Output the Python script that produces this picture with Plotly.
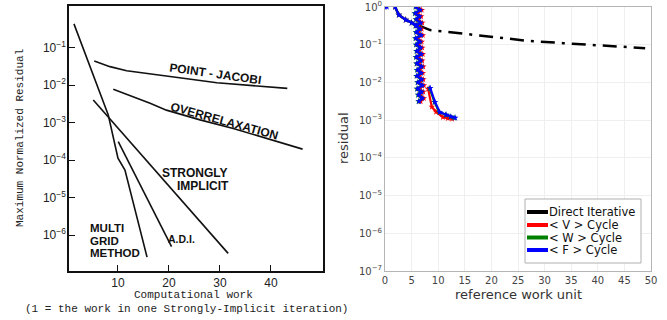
import plotly.graph_objects as go

W, H = 667, 320
def fx(p): return p / W
def fy(p): return 1 - p / H

# ---------------- Left panel data (scanned figure) ----------------
left_xticks = [10, 20, 30, 40]
left_yticks = [1e-1, 1e-2, 1e-3, 1e-4, 1e-5, 1e-6]
left_yticktext = ["10<sup>−1</sup>", "10<sup>−2</sup>", "10<sup>−3</sup>", "10<sup>−4</sup>",
                  "10<sup>−5</sup>", "10<sup>−6</sup>"]

multigrid_work = [1.37, 8.1, 10.0, 11.37, 15.7]
multigrid_res = [0.4266, 1.585e-3, 1.122e-4, 5.37e-5, 2.57e-7]
adi_work = [10.06, 20.5]
adi_res = [3.09e-4, 4.9e-7]
si_work = [5.16, 31.6]
si_res = [3.98e-3, 3.24e-7]
pj_work = [5.35, 8.43, 11.7, 16.3, 22.8, 29.4, 35.9, 43.2]
pj_res = [0.0437, 0.0309, 0.024, 0.0195, 0.0151, 0.01148, 0.00955, 0.00813]
or_work = [9.08, 13.0, 16.3, 19.5, 26.1, 32.6, 39.2, 46.2]
or_res = [7.76e-3, 4.9e-3, 3.24e-3, 2.14e-3, 1.175e-3, 6.92e-4, 3.8e-4, 1.95e-4]

# ---------------- Right panel data ----------------
right_xticks = [0, 5, 10, 15, 20, 25, 30, 35, 40, 45, 50]
right_yticks = [1, 1e-1, 1e-2, 1e-3, 1e-4, 1e-5, 1e-6, 1e-7]
right_yticktext = ["10<sup>0</sup>", "10<sup>−1</sup>", "10<sup>−2</sup>", "10<sup>−3</sup>",
                   "10<sup>−4</sup>", "10<sup>−5</sup>", "10<sup>−6</sup>", "10<sup>−7</sup>"]
series_names = ["Direct Iterative", "< V > Cycle", "< W > Cycle", "< F > Cycle"]
series_colors = ["#000000", "#ff0000", "#008000", "#0000ff"]

direct_work = [1.9, 2.6, 3.9, 5.6, 8.5, 14, 21, 27, 33.5, 41, 48.9]
direct_res = [1.0, 0.617, 0.457, 0.355, 0.245, 0.2, 0.151, 0.126, 0.11, 0.093, 0.081]

start_work = [1.9, 2.6, 3.9, 5.0, 6.0]
start_res = [1.0, 0.617, 0.457, 0.38, 0.33]

band_res = [1.0, 0.832, 0.676, 0.562, 0.468, 0.380, 0.316, 0.263, 0.214, 0.178, 0.148, 0.120,
            0.1, 0.0832, 0.0676, 0.0562, 0.0468, 0.0380, 0.0316, 0.0263, 0.0214, 0.0178,
            0.0148, 0.0120, 0.01, 0.00832, 0.00676, 0.00562, 0.00468, 0.00380, 0.00316]
v_band_work = [6.1, 6.9, 6.0, 6.8, 6.2, 7.0, 6.1, 6.9, 6.2, 7.1, 6.1, 6.9, 6.2, 7.0, 6.3, 7.1,
               6.2, 7.0, 6.3, 7.2, 6.4, 7.1, 6.3, 7.2, 6.5, 7.3, 6.4, 7.2, 6.6, 7.3, 6.7]
w_band_work = [5.7, 6.5, 5.6, 6.4, 5.8, 6.6, 5.7, 6.5, 5.8, 6.7, 5.7, 6.5, 5.8, 6.6, 5.9, 6.7,
               5.8, 6.6, 5.9, 6.8, 6.0, 6.7, 5.9, 6.8, 6.1, 6.9, 6.0, 6.8, 6.2, 6.9, 6.3]
f_band_work = [5.8, 6.6, 5.7, 6.5, 5.9, 6.7, 5.8, 6.6, 5.9, 6.8, 5.8, 6.6, 5.9, 6.7, 6.0, 6.8,
               5.9, 6.7, 6.0, 6.9, 6.1, 6.8, 6.0, 6.9, 6.2, 7.0, 6.1, 6.9, 6.3, 7.0, 6.4]

v_tail_work = [8.1, 8.8, 9.6, 10.9, 11.8, 12.6]
v_tail_res = [6.76e-3, 2.24e-3, 1.66e-3, 1.2e-3, 1.12e-3, 1.07e-3]
w_tail_work = [8.4, 9.3, 10.2, 11.4, 12.3, 13.0]
w_tail_res = [7.0e-3, 3.0e-3, 1.62e-3, 1.38e-3, 1.23e-3, 1.15e-3]
f_tail_work = [8.5, 9.4, 10.3, 11.5, 12.4, 13.2]
f_tail_res = [7.08e-3, 3.02e-3, 1.62e-3, 1.38e-3, 1.23e-3, 1.15e-3]

f_first_work = [0, 0.35]
f_first_res = [1.0, 1.0]

fig = go.Figure()

# Left panel curves
for xs, ys in [(multigrid_work, multigrid_res), (adi_work, adi_res), (si_work, si_res),
               (pj_work, pj_res), (or_work, or_res)]:
    fig.add_trace(go.Scatter(x=xs, y=ys, mode="lines", xaxis="x", yaxis="y",
                             line=dict(color="#111111", width=1.6), showlegend=False,
                             hoverinfo="skip"))

# Right panel
fig.add_trace(go.Scatter(x=direct_work, y=direct_res, mode="lines", xaxis="x2", yaxis="y2",
                         line=dict(color="black", width=2.5, dash="14px,7px,3px,7px"),
                         showlegend=False))

def seg(*parts):
    out = []
    for i, p in enumerate(parts):
        if i:
            out.append(None)
        out.extend(p)
    return out

for name, color, bw, tw, tr, first in [
        ("< V > Cycle", "#ff0000", v_band_work, v_tail_work, v_tail_res, False),
        ("< W > Cycle", "#008000", w_band_work, w_tail_work, w_tail_res, False),
        ("< F > Cycle", "#0000ff", f_band_work, f_tail_work, f_tail_res, True)]:
    if first:
        xs = seg(f_first_work, start_work, bw, tw)
        ys = seg(f_first_res, start_res, band_res, tr)
    else:
        xs = seg(start_work, bw, tw)
        ys = seg(start_res, band_res, tr)
    fig.add_trace(go.Scatter(x=xs, y=ys, mode="lines+markers", xaxis="x2", yaxis="y2", name=name,
                             line=dict(color=color, width=2.2),
                             marker=dict(color=color, size=5, symbol="star"),
                             showlegend=False, connectgaps=False))

LEFT_FONT = "Liberation Sans, Arial, sans-serif"
MONO = "Liberation Mono, Courier New, monospace"
SANS = "DejaVu Sans, sans-serif"

fig.update_layout(
    template="none", hovermode=False,
    width=W, height=H, margin=dict(l=0, r=0, t=0, b=0, pad=0),
    paper_bgcolor="white", plot_bgcolor="white", showlegend=False,
    xaxis=dict(domain=[fx(69), fx(323)], range=[0.4, 50.2], tickvals=left_xticks,
               ticks="inside", ticklen=6, tickwidth=1.3, tickcolor="#111", automargin=False,
               showgrid=False, zeroline=False, showline=True, linecolor="#111", linewidth=1.6,
               mirror=True, tickfont=dict(family=LEFT_FONT, size=12, color="#222"), anchor="y"),
    yaxis=dict(domain=[fy(271), fy(6)], type="log", range=[-6.96, 0.107], tickvals=left_yticks,
               ticktext=left_yticktext, ticks="inside", ticklen=6, tickwidth=1.3, tickcolor="#111",
               automargin=False, ticklabelstandoff=-1,
               showgrid=False, zeroline=False, showline=True, linecolor="#111", linewidth=1.6,
               mirror=True, tickfont=dict(family=LEFT_FONT, size=12, color="#222"), anchor="x"),
    xaxis2=dict(domain=[fx(385), fx(651)], range=[0, 50], tickvals=right_xticks,
                ticks="", showgrid=True, gridcolor="#efefef", zeroline=False, showline=True,
                linecolor="#b5b5b5", linewidth=1, mirror=True, automargin=False,
                tickfont=dict(family=SANS, size=10, color="#444"), anchor="y2"),
    yaxis2=dict(domain=[fy(271), fy(7)], type="log", range=[-7, 0], tickvals=right_yticks,
                ticktext=right_yticktext, ticks="", showgrid=True, gridcolor="#efefef",
                zeroline=False, showline=True, linecolor="#b5b5b5", linewidth=1, mirror=True,
                automargin=False,
                tickfont=dict(family=SANS, size=10, color="#444"), anchor="x2"),
)

ann = []
def lab(text, x, y, size=12, angle=0, xanchor="center", bold=True):
    ann.append(dict(text=("<b>%s</b>" % text) if bold else text, x=x, y=y, xref="x", yref="y",
                    showarrow=False, textangle=angle, xanchor=xanchor, yanchor="middle",
                    font=dict(family=LEFT_FONT, size=size, color="#111")))

lab("POINT - JACOBI", 29.2, -1.71, angle=8)
lab("OVERRELAXATION", 30.8, -2.95, angle=15.5)
lab("STRONGLY", 25.1, -4.35)
lab("IMPLICIT", 26.7, -4.69)
lab("MULTI", 4.1, -5.82, size=11.5, xanchor="left")
lab("GRID", 4.1, -6.15, size=11.5, xanchor="left")
lab("METHOD", 4.1, -6.47, size=11.5, xanchor="left")
lab("A.D.I.", 22.5, -6.11, size=10.5)

def pann(text, x, y, font, angle=0, xanchor="center"):
    ann.append(dict(text=text, x=fx(x), y=fy(y), xref="paper", yref="paper", showarrow=False,
                    textangle=angle, xanchor=xanchor, yanchor="middle", font=font))

pann("Maximum Normalized Residual", 20, 138, dict(family=MONO, size=11, color="#222"), angle=-90)
pann("Computational work", 193, 295, dict(family=MONO, size=11, color="#222"))
pann("(1 = the work in one Strongly-Implicit iteration)", 186, 309,
     dict(family=MONO, size=11, color="#222"))
pann("residual", 343, 138, dict(family=SANS, size=13, color="#333"), angle=-90)
pann("reference work unit", 518, 294, dict(family=SANS, size=13, color="#333"))

# Manual legend (box, line samples, labels)
shapes = [dict(type="rect", xref="paper", yref="paper", x0=fx(525), x1=fx(641), y0=fy(263),
               y1=fy(199), line=dict(color="#b0b0b0", width=1), fillcolor="white", layer="above")]
leg_y = [212, 225, 237.5, 250]
for name, color, yy in zip(series_names, series_colors, leg_y):
    shapes.append(dict(type="line", xref="paper", yref="paper", x0=fx(527), x1=fx(548),
                       y0=fy(yy), y1=fy(yy), line=dict(color=color, width=4), layer="above"))
    ann.append(dict(text=name, x=fx(548), y=fy(yy), xref="paper", yref="paper", showarrow=False,
                    xanchor="left", yanchor="middle", borderpad=0,
                    font=dict(family=SANS, size=11.5, color="#111")))

fig.update_layout(annotations=ann, shapes=shapes)
# Remove the browser's default body margin so the figure sits at the page's top-left corner.
fig.write_html("out.html", config={"displayModeBar": False},
               post_script="document.body.style.margin='0px';")
